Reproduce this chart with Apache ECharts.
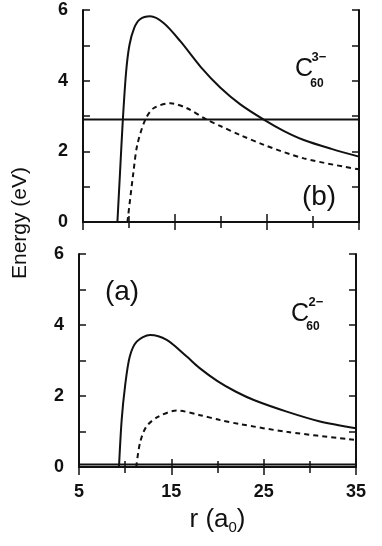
<!DOCTYPE html>
<html>
<head>
<meta charset="utf-8">
<script src="https://cdn.jsdelivr.net/npm/echarts@6/dist/echarts.min.js"></script>
<style>
  html, body { margin: 0; padding: 0; background: #fff; }
  #chart { width: 382px; height: 546px; }
</style>
</head>
<body>
<div id="chart"></div>
<script>
// panel (b): C60 3-
const rB_solid = [8.74, 9.03, 9.33, 9.69, 10.05, 10.56, 11.2, 12.3, 13.76, 15.6, 17.76, 19.94, 22.1, 24.7, 26.8, 29.0, 32.0, 35.0]
const eB_solid = [0, 1.43, 2.89, 4.26, 5.01, 5.49, 5.74, 5.82, 5.63, 5.11, 4.40, 3.80, 3.33, 2.89, 2.58, 2.32, 2.07, 1.85]
const rB_dash = [9.83, 10.49, 10.9, 11.76, 12.67, 14.5, 16.3, 18.5, 19.9, 22.1, 24.7, 29.0, 35.0]
const eB_dash = [0, 1.43, 2.18, 2.89, 3.22, 3.36, 3.22, 2.89, 2.72, 2.46, 2.18, 1.80, 1.49]
const rB_level = [5, 35]
const eB_level = [2.9, 2.9]

// panel (a): C60 2-
const rA_solid = [9.33, 9.62, 9.98, 10.5, 11.25, 12.7, 14.5, 16.67, 18.0, 20.0, 22.0, 24.0, 27.5, 31.0, 35.0]
const eA_solid = [0, 1.32, 2.26, 3.11, 3.53, 3.72, 3.58, 3.11, 2.80, 2.42, 2.12, 1.88, 1.56, 1.29, 1.09]
const rA_dash = [11.2, 11.6, 12.3, 13.6, 15.6, 18.1, 20.3, 22.4, 27.5, 35.0]
const eA_dash = [0, 0.67, 1.14, 1.42, 1.59, 1.46, 1.32, 1.21, 0.99, 0.76]
const rA_level = [5, 35]
const eA_level = [0.07, 0.07]

const xTicks = [5, 15, 25, 35]
const yTicks = [0, 2, 4, 6]

const zip = (xs, ys) => xs.map((x, i) => [x, ys[i]])
const ink = '#111'

function xAx(grid, pos, labels) {
  return {
    type: 'value', gridIndex: grid, position: pos,
    min: 5, max: 35, interval: 10,
    axisLine: { lineStyle: { color: ink, width: 2 } },
    axisTick: { inside: true, length: 8, lineStyle: { color: ink, width: 1.5 } },
    minorTick: { show: true, splitNumber: 2, length: 6, lineStyle: { color: ink, width: 1.5 } },
    splitLine: { show: false },
    axisLabel: {
      show: labels, margin: 16, color: ink, fontSize: 18, fontWeight: 'bold',
      fontFamily: 'Liberation Sans',
      formatter: v => xTicks.includes(v) ? String(v) : ''
    },
    name: labels ? '{a|r (a}{s|0}{a|)}' : '',
    nameLocation: 'middle', nameGap: 38,
    nameTextStyle: {
      rich: {
        a: { fontSize: 26, fontFamily: 'Liberation Sans', color: ink, lineHeight: 30 },
        s: { fontSize: 15, fontFamily: 'Liberation Sans', color: ink, verticalAlign: 'bottom', lineHeight: 12 }
      }
    }
  }
}

function yAx(grid, pos, labels) {
  return {
    type: 'value', gridIndex: grid, position: pos,
    min: 0, max: 6, interval: 2,
    axisLine: { lineStyle: { color: ink, width: 2 } },
    axisTick: { inside: true, length: 7, lineStyle: { color: ink, width: 1.5 } },
    minorTick: { show: true, splitNumber: 2, length: 7, lineStyle: { color: ink, width: 1.5 } },
    splitLine: { show: false },
    axisLabel: {
      show: labels, margin: 15, color: ink, fontSize: 18, fontWeight: 'bold',
      fontFamily: 'Liberation Sans',
      formatter: v => yTicks.includes(v) ? String(v) : ''
    }
  }
}

function line(xi, yi, data, dashed) {
  return {
    type: 'line', xAxisIndex: xi, yAxisIndex: yi, data,
    showSymbol: false, smooth: 0.3,
    lineStyle: { color: ink, width: 2, type: dashed ? [5, 4] : 'solid' }
  }
}

function txt(x, y, s, size, bold) {
  return {
    type: 'text', x, y,
    style: {
      text: s, fill: ink, fontSize: size, fontWeight: bold ? 'bold' : 'normal',
      fontFamily: 'Liberation Sans', align: 'center', verticalAlign: 'middle'
    }
  }
}

const chart = echarts.init(document.getElementById('chart'))
chart.setOption({
  animation: false,
  backgroundColor: '#fff',
  grid: [
    { left: 83, top: 10, width: 276, height: 212 },
    { left: 79, top: 254, width: 277, height: 213 }
  ],
  xAxis: [
    xAx(0, 'bottom', false), xAx(0, 'top', false),
    xAx(1, 'bottom', true), xAx(1, 'top', false)
  ],
  yAxis: [
    yAx(0, 'left', true), yAx(0, 'right', false),
    yAx(1, 'left', true), yAx(1, 'right', false)
  ],
  series: [
    line(0, 0, zip(rB_solid, eB_solid), false),
    line(0, 0, zip(rB_dash, eB_dash), true),
    line(0, 0, zip(rB_level, eB_level), false),
    line(2, 2, zip(rA_solid, eA_solid), false),
    line(2, 2, zip(rA_dash, eA_dash), true),
    line(2, 2, zip(rA_level, eA_level), false)
  ],
  graphic: [
    {
      type: 'text', x: 20, y: 223, rotation: Math.PI / 2,
      style: {
        text: 'Energy (eV)', fill: ink, fontSize: 21,
        fontFamily: 'Liberation Sans Narrow, Liberation Sans',
        align: 'center', verticalAlign: 'middle'
      }
    },
    txt(304, 69, 'C', 25, false),
    txt(317, 84, '60', 12, true),
    txt(319, 57, '3\u2212', 13, true),
    txt(319, 197, '(b)', 28, false),
    txt(122, 292, '(a)', 28, false),
    txt(300, 314, 'C', 25, false),
    txt(313, 327, '60', 12, true),
    txt(316, 302, '2\u2212', 13, true)
  ]
})
</script>
</body>
</html>
